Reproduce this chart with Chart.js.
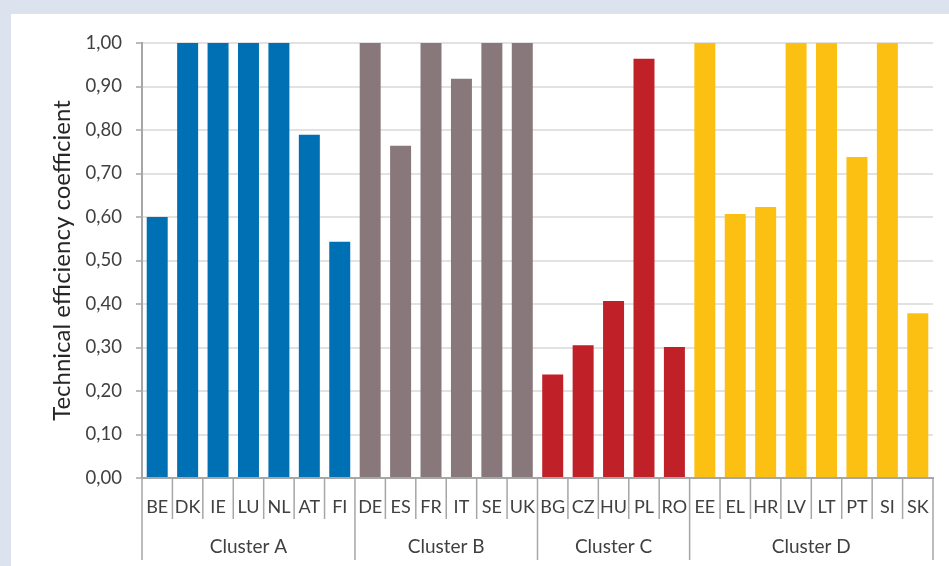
<!DOCTYPE html>
<html>
<head>
<meta charset="utf-8">
<script src="https://cdn.jsdelivr.net/npm/chart.js@4.4.1/dist/chart.umd.min.js"></script>
<style>
  html, body { margin:0; padding:0; background:#dce3ee; }
  #wrap { position:absolute; left:11px; top:14px; width:938px; height:552px; background:#ffffff; }
  canvas { display:block; }
</style>
</head>
<body>
<div id="wrap"><canvas id="c" width="938" height="552"></canvas></div>
<script>
const categories = ['BE','DK','IE','LU','NL','AT','FI','DE','ES','FR','IT','SE','UK','BG','CZ','HU','PL','RO','EE','EL','HR','LV','LT','PT','SI','SK'];
const values = [0.600,1.000,1.000,1.000,1.000,0.789,0.543, 1.000,0.764,1.000,0.918,1.000,1.000, 0.238,0.305,0.407,0.964,0.301, 1.000,0.607,0.623,1.000,1.000,0.738,1.000,0.379];
const clusterNames = ['Cluster A','Cluster B','Cluster C','Cluster D'];
const clusterSizes = [7,6,5,8];
const clusterColors = ['#0070b4','#88787c','#c02027','#fcc012'];

const barColors = [];
clusterSizes.forEach((n,i)=>{ for(let k=0;k<n;k++) barColors.push(clusterColors[i]); });

const FONT = 'Lato, "Open Sans", sans-serif';

const groupAxisPlugin = {
  id:'groupAxis',
  afterDraw(chart){
    const ctx = chart.ctx;
    const xs = chart.scales.x;
    const n = categories.length;
    const w = (xs.right - xs.left)/n;
    const y0 = xs.top;
    ctx.save();
    ctx.strokeStyle = '#a6a6a6';
    ctx.lineWidth = 1.5;
    const clusterEdges = new Set([0]);
    let acc = 0;
    clusterSizes.forEach(s=>{ acc += s; clusterEdges.add(acc); });
    for(let i=0;i<=n;i++){
      const x = xs.getPixelForValue(0) - w/2 + i*w;
      const len = clusterEdges.has(i) ? 82 : 41;
      ctx.beginPath();
      ctx.moveTo(x, y0);
      ctx.lineTo(x, y0+len);
      ctx.stroke();
    }
    ctx.fillStyle = '#404040';
    ctx.font = '19px ' + FONT;
    ctx.textAlign = 'center';
    ctx.textBaseline = 'middle';
    let start = 0;
    clusterSizes.forEach((s,i)=>{
      const xa = xs.getPixelForValue(start);
      const xb = xs.getPixelForValue(start+s-1);
      ctx.fillText(clusterNames[i], (xa+xb)/2, y0+69);
      start += s;
    });
    ctx.restore();
  }
};

new Chart(document.getElementById('c'), {
  type:'bar',
  data:{
    labels: categories,
    datasets:[{
      data: values,
      backgroundColor: barColors,
      borderWidth:0,
      barPercentage:0.69,
      categoryPercentage:1.0
    }]
  },
  options:{
    responsive:false,
    animation:false,
    layout:{ padding:{ left:0, right:16, top:29, bottom:0 } },
    plugins:{ legend:{display:false}, tooltip:{enabled:false} },
    scales:{
      x:{
        grid:{ display:false, drawTicks:false },
        border:{ display:true, color:'#a6a6a6', width:2 },
        ticks:{ color:'#404040', font:{ family:FONT, size:18 }, padding:18, maxRotation:0, autoSkip:false },
        afterFit(s){ s.height = 88; }
      },
      y:{
        min:0, max:1,
        ticks:{ stepSize:0.1, color:'#404040', font:{ family:FONT, size:18.5 }, padding:14,
          callback:(v)=> Number(v).toFixed(2).replace('.',',') },
        grid:{ color:'#e2e2e2', lineWidth:2, tickLength:6, tickColor:'#a6a6a6', tickWidth:1.5 },
        border:{ display:true, color:'#a6a6a6', width:2 },
        title:{ display:true, text:'Technical efficiency coefficient', color:'#262626', font:{ family:FONT, size:24 }, padding:{top:37,bottom:0} },
        afterFit(s){ s.width = 131; }
      }
    }
  },
  plugins:[groupAxisPlugin]
});
</script>
</body>
</html>
